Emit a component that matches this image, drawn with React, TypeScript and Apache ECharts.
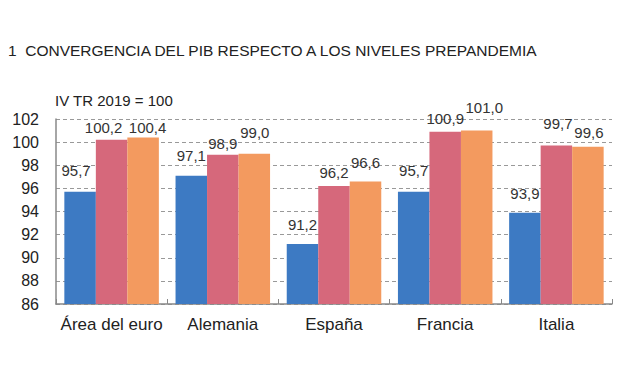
import React, { useEffect, useRef } from "react";
import * as echarts from "echarts";

const categories = ["Área del euro", "Alemania", "España", "Francia", "Italia"];
const seriesA = [95.7, 97.1, 91.2, 95.7, 93.9];
const seriesB = [100.2, 98.9, 96.2, 100.9, 99.7];
const seriesC = [100.4, 99.0, 96.6, 101.0, 99.6];
const yTicks = [86, 88, 90, 92, 94, 96, 98, 100, 102];

const FONT = "Liberation Sans, Arial, sans-serif";

export default function App() {
  const ref = useRef<HTMLDivElement>(null);
  useEffect(() => {
    if (!ref.current) return;
    const chart = echarts.init(ref.current, null, { renderer: "svg" });
    const fmt = (p: any) => Number(p.value).toFixed(1).replace(".", ",");
    // label placement nudges (style only): [distance above bar, horizontal shift]
    const nudgeA = [[14, -4], [13, 0], [12, 0], [14, 0], [12, 0]];
    const nudgeB = [[5, -8], [4, 0], [6, 0], [6, 0], [15, 1.5]];
    const nudgeC = [[2.5, 4.5], [14, 0.5], [11.5, 0], [15.6, 7.5], [7, 1]];
    const mk = (data: number[], color: string, nudge: number[][]) => ({
      type: "bar",
      data: data.map((v, i) => ({
        value: v,
        label: { distance: nudge[i][0], offset: [nudge[i][1], 0] },
      })),
      barGap: "0%",
      barCategoryGap: "15%",
      itemStyle: { color },
      label: {
        show: true,
        position: "top",
        formatter: fmt,
        color: "#333",
        fontSize: 15,
        fontFamily: FONT,
      },
    });
    chart.setOption({
      animation: false,
      backgroundColor: "#fff",
      textStyle: { fontFamily: FONT },
      title: [
        {
          text: "1  CONVERGENCIA DEL PIB RESPECTO A LOS NIVELES PREPANDEMIA",
          left: 0,
          top: 34,
          padding: 0,
          textStyle: { fontSize: 15.5, fontWeight: "normal", color: "#222", fontFamily: FONT },
        },
        {
          text: "IV TR 2019 = 100",
          left: 47,
          top: 85,
          padding: 0,
          textStyle: { fontSize: 15, fontWeight: "normal", color: "#222", fontFamily: FONT },
        },
      ],
      grid: { left: 48, right: 20, top: 111, bottom: 72, containLabel: false },
      xAxis: {
        type: "category",
        data: categories,
        axisLine: { lineStyle: { color: "#888", width: 1.5 } },
        axisTick: { show: true, inside: true, length: 5, lineStyle: { color: "#888" } },
        axisLabel: { color: "#222", fontSize: 17, margin: 12, interval: 0, fontFamily: FONT },
      },
      yAxis: {
        type: "value",
        min: yTicks[0],
        max: yTicks[yTicks.length - 1],
        interval: 2,
        axisLine: { show: true, lineStyle: { color: "#888", width: 1.5 } },
        axisTick: { show: false },
        axisLabel: { color: "#222", fontSize: 16, margin: 17, fontFamily: FONT },
        splitLine: { lineStyle: { color: "#999", type: [4, 3], width: 1 } },
      },
      series: [
        mk(seriesA, "#3d7ac3", nudgeA),
        mk(seriesB, "#d6687b", nudgeB),
        mk(seriesC, "#f39a5f", nudgeC),
      ],
    });
    return () => chart.dispose();
  }, []);
  return <div ref={ref} style={{ width: 624, height: 368 }} />;
}
